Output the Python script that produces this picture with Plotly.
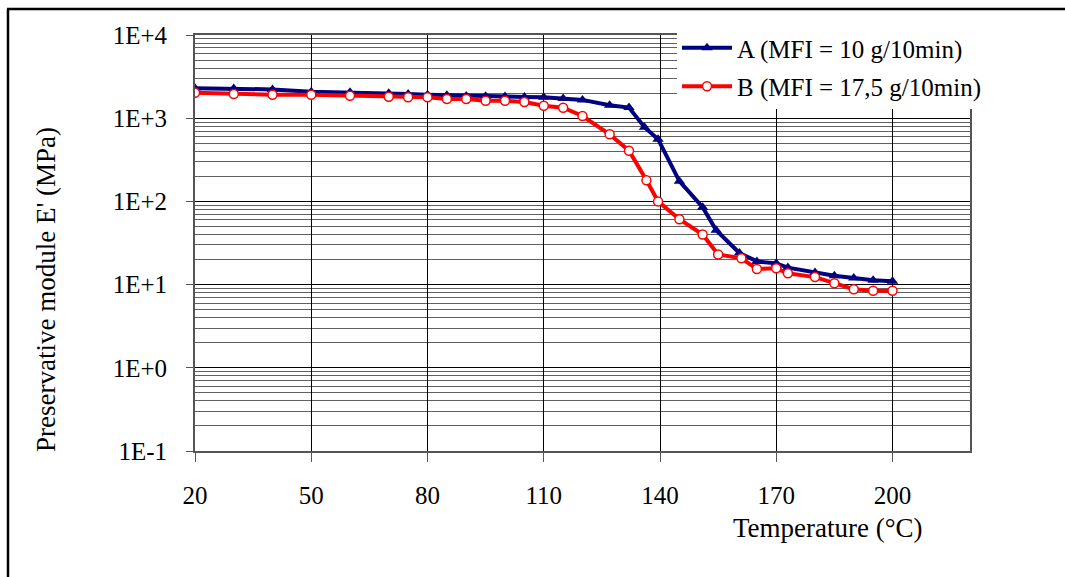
import plotly.graph_objects as go

# Storage modulus vs temperature for two polymer grades
temp_a = [20, 30, 40, 50, 60, 70, 75, 80, 85, 90, 95, 100, 105, 110, 115, 120,
          127, 132, 136, 139.5, 145, 151, 154.5, 160.5, 165, 170, 173, 180,
          185, 190, 195, 200]
modulus_a = [2290, 2280, 2220, 2080, 2050, 1990, 1960, 1920, 1885, 1850, 1840,
             1820, 1800, 1780, 1720, 1660, 1430, 1340, 780, 560, 175, 85, 45,
             24, 19, 18, 16, 14, 12.8, 12, 11.3, 11]

temp_b = [20, 30, 40, 50, 60, 70, 75, 80, 85, 90, 95, 100, 105, 110, 115, 120,
          127, 132, 136.5, 139.5, 145, 151, 155, 161, 165, 170, 173, 180,
          185, 190, 195, 200]
modulus_b = [2025, 1954, 1916, 1916, 1864, 1813, 1783, 1783, 1701, 1701, 1622,
             1622, 1566, 1413, 1337, 1063, 640, 407, 179, 100, 61, 40, 23,
             20.7, 15.4, 15.7, 13.7, 12.3, 10.4, 8.8, 8.45, 8.45]

name_a = "A (MFI = 10 g/10min)"
name_b = "B (MFI = 17,5 g/10min)"

x_ticks = [20, 50, 80, 110, 140, 170, 200]
y_tickvals = [0.1, 1, 10, 100, 1000, 10000]
y_ticktext = ["1E-1", "1E+0", "1E+1", "1E+2", "1E+3", "1E+4"]

x_title = "Temperature (°C)"
y_title = "Preservative module E' (MPa)"

FONT = "Liberation Serif, Times New Roman, serif"
FS = 25
FS_TITLE = 27
W, H = 1065, 577
ML, MR, MT, MB = 195, 95, 35, 126
PW, PH = W - ML - MR, H - MT - MB


def px_to_paper_x(px):
    return (px - ML) / PW


def px_to_paper_y(py):
    return (H - MB - py) / PH


fig = go.Figure()
fig.add_trace(go.Scatter(
    x=temp_a, y=modulus_a, name=name_a, mode="lines+markers",
    line=dict(color="#000080", width=4),
    marker=dict(symbol="triangle-up", size=10, color="#000080"),
    legendgroup="a",
))
fig.add_trace(go.Scatter(
    x=temp_b, y=modulus_b, name=name_b, mode="lines+markers",
    line=dict(color="#ff0000", width=4),
    marker=dict(symbol="circle", size=9, color="white",
                line=dict(color="#ff0000", width=1.5)),
    legendgroup="b",
))

fig.update_xaxes(
    range=[20, 220], tickvals=x_ticks, showgrid=True, gridcolor="#000000",
    gridwidth=1, zeroline=False, showline=True, linecolor="#555555",
    linewidth=2, mirror=True, ticks="outside", ticklen=9, tickcolor="#555555",
    tickwidth=1, ticklabelstandoff=12,
    tickfont=dict(family=FONT, size=FS, color="#000000"),
)
fig.update_yaxes(
    type="log", range=[-1, 4], tickvals=y_tickvals, ticktext=y_ticktext,
    showgrid=True, gridcolor="#000000", gridwidth=1, zeroline=False,
    showline=True, linecolor="#555555", linewidth=2, mirror=True,
    ticks="outside", ticklen=7, tickcolor="#555555", tickwidth=1,
    ticklabelstandoff=14,
    tickfont=dict(family=FONT, size=FS, color="#000000"),
    minor=dict(dtick="D1", showgrid=True, gridcolor="#606060", gridwidth=1,
               ticks=""),
)

# Chart frame (left and top edges)
frame = dict(type="line", xref="paper", yref="paper",
             line=dict(color="#000000", width=2.5))
fig.add_shape(**frame, x0=px_to_paper_x(8), y0=px_to_paper_y(9),
              x1=px_to_paper_x(8), y1=px_to_paper_y(H + 5))
fig.add_shape(**frame, x0=px_to_paper_x(7), y0=px_to_paper_y(9),
              x1=px_to_paper_x(W + 5), y1=px_to_paper_y(9))

fig.add_annotation(
    text=x_title, xref="paper", yref="paper",
    x=px_to_paper_x(828), y=px_to_paper_y(528),
    xanchor="center", yanchor="middle",
    showarrow=False, font=dict(family=FONT, size=FS_TITLE, color="#000000"),
)
fig.add_annotation(
    text=y_title, xref="paper", yref="paper",
    x=px_to_paper_x(46), y=px_to_paper_y(290), textangle=-90,
    xanchor="center", yanchor="middle",
    showarrow=False, font=dict(family=FONT, size=FS_TITLE, color="#000000"),
)

fig.update_layout(
    width=W, height=H,
    margin=dict(l=ML, r=MR, t=MT, b=MB),
    paper_bgcolor="white", plot_bgcolor="white",
    font=dict(family=FONT, color="#000000"),
    legend=dict(
        x=px_to_paper_x(677), y=px_to_paper_y(25), xanchor="left",
        yanchor="top", bgcolor="white", borderwidth=0,
        font=dict(family=FONT, size=FS, color="#000000"),
        tracegroupgap=3, itemwidth=50,
    ),
    showlegend=True,
)

fig.write_html("out.html")
